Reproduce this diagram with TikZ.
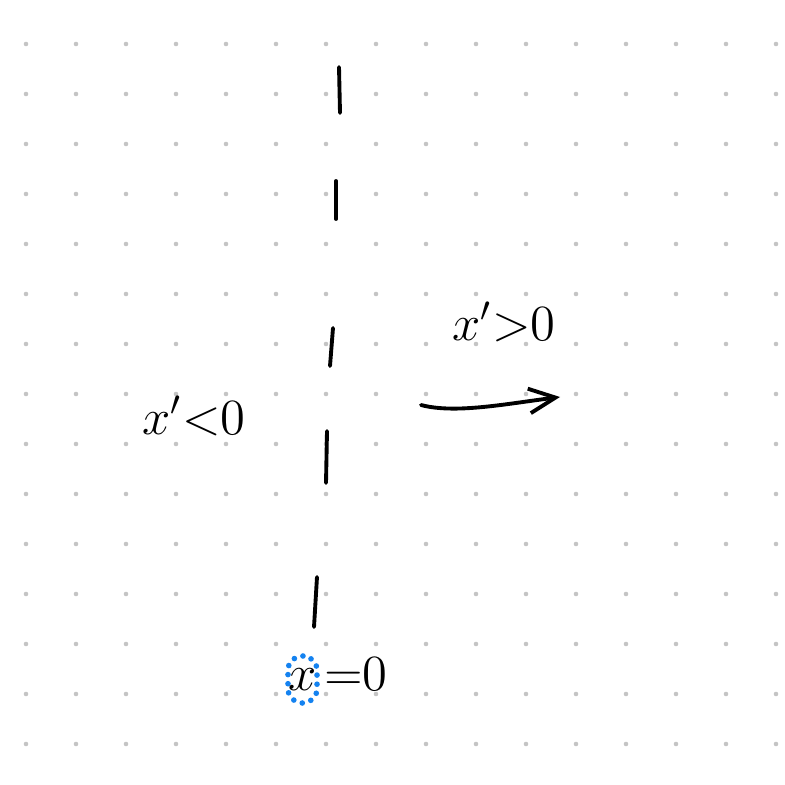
\documentclass[tikz,border=0pt]{standalone}
\usepackage{amsmath}
\usetikzlibrary{calc, positioning}
\usetikzlibrary{arrows.meta}
\definecolor{dotgray}{RGB}{196,196,196}
\definecolor{markblue}{RGB}{20,130,240}

\begin{document}
\begin{tikzpicture}[x=0.01cm, y=-0.01cm, every node/.style={font=\fontsize{14}{17}\selectfont}]
\def\pen{1.1pt}
\def\dotr{0.65pt}

\useasboundingbox (0,0) rectangle (785,785);

\foreach \i in {0,...,15}
  \foreach \j in {0,...,14}
    \fill[dotgray] (26+50*\i,44+50*\j) circle (\dotr);

\coordinate (Aa) at (339,67);
\coordinate (Ab) at (340,113);
\coordinate (Ba) at (336,181);
\coordinate (Bb) at (336,219);
\coordinate (Ca) at (333,328);
\coordinate (Cb) at (330,366);
\coordinate (Da) at (327,431);
\coordinate (Db) at (326,483);
\coordinate (Ea) at (317,577);
\coordinate (Eb) at (314,627);

\draw[line width=\pen, line cap=round] (Aa) -- (Ab);
\draw[line width=\pen, line cap=round] (Ba) -- (Bb);
\draw[line width=\pen, line cap=round] (Ca) -- (Cb);
\draw[line width=\pen, line cap=round] (Da) -- (Db);
\draw[line width=\pen, line cap=round] (Ea) -- (Eb);

\coordinate (Ws) at (421,405);
\coordinate (We) at (560,397);
\draw[line width=\pen, line cap=round, -{Straight Barb[length=7.5pt, width=7pt]}]
  (Ws) .. controls (455,414) and (505,404) .. (We);

\node (pos) at (504,322) {$x'{>}0$};
\node (neg) at (194,416) {$x'{<}0$};

\node[draw=markblue, line width=1.6pt, line cap=round, dash pattern=on 0pt off 2.6pt,
  rounded corners=4pt, inner sep=0pt, minimum width=0.29cm, minimum height=0.47cm] (zx) at (302.5,679.5) {$x$};
\node[right=0pt of zx, inner sep=1pt, yshift=0.05cm] (zeq) {${=}0$};
\end{tikzpicture}
\end{document}
